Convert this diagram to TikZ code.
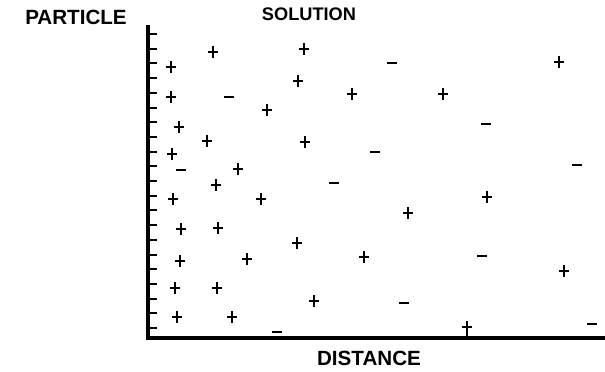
\documentclass[tikz,border=0pt]{standalone}
\usepackage{fontspec}
\setsansfont{Liberation Sans}

\begin{document}
\begin{tikzpicture}[x=0.5pt,y=-0.5pt,every node/.style={font=\fontsize{10.3}{12}\sffamily\bfseries\selectfont},sign/.style={line width=1.35pt},tick/.style={line width=1pt}]
\useasboundingbox (0,0) rectangle (605,371);
\coordinate (top) at (148,25);
\coordinate (origin) at (148,338);
\coordinate (right) at (605,338);
\draw[line width=2.4pt] (top)--(origin)--(right);
\draw[tick] (149,34)--(157,34);
\draw[tick] (149,48.7)--(157,48.7);
\draw[tick] (149,63.4)--(157,63.4);
\draw[tick] (149,78.1)--(157,78.1);
\draw[tick] (149,92.8)--(157,92.8);
\draw[tick] (149,107.5)--(157,107.5);
\draw[tick] (149,122.2)--(157,122.2);
\draw[tick] (149,136.9)--(157,136.9);
\draw[tick] (149,151.6)--(157,151.6);
\draw[tick] (149,166.3)--(157,166.3);
\draw[tick] (149,181)--(157,181);
\draw[tick] (149,195.7)--(157,195.7);
\draw[tick] (149,210.4)--(157,210.4);
\draw[tick] (149,225.1)--(157,225.1);
\draw[tick] (149,239.8)--(157,239.8);
\draw[tick] (149,254.5)--(157,254.5);
\draw[tick] (149,269.2)--(157,269.2);
\draw[tick] (149,283.9)--(157,283.9);
\draw[tick] (149,298.6)--(157,298.6);
\draw[tick] (149,313.3)--(157,313.3);
\draw[tick] (149,328)--(157,328);
\draw[sign] (208,52)--(218,52) (213,46)--(213,58);
\draw[sign] (299,49)--(309,49) (304,43)--(304,55);
\draw[sign] (554,62)--(564,62) (559,56)--(559,68);
\draw[sign] (166,67)--(176,67) (171,61)--(171,73);
\draw[sign] (293,81)--(303,81) (298,75)--(298,87);
\draw[sign] (166,97)--(176,97) (171,91)--(171,103);
\draw[sign] (347,94)--(357,94) (352,88)--(352,100);
\draw[sign] (438,94)--(448,94) (443,88)--(443,100);
\draw[sign] (262,110)--(272,110) (267,104)--(267,116);
\draw[sign] (174,127)--(184,127) (179,121)--(179,133);
\draw[sign] (202,141)--(212,141) (207,135)--(207,147);
\draw[sign] (300,142)--(310,142) (305,136)--(305,148);
\draw[sign] (167,154)--(177,154) (172,148)--(172,160);
\draw[sign] (233,169)--(243,169) (238,163)--(238,175);
\draw[sign] (211,185)--(221,185) (216,179)--(216,191);
\draw[sign] (168,199)--(178,199) (173,193)--(173,205);
\draw[sign] (256,199)--(266,199) (261,193)--(261,205);
\draw[sign] (482,197)--(492,197) (487,191)--(487,203);
\draw[sign] (403,213)--(413,213) (408,207)--(408,219);
\draw[sign] (176,229)--(186,229) (181,223)--(181,235);
\draw[sign] (213,228)--(223,228) (218,222)--(218,234);
\draw[sign] (292,243)--(302,243) (297,237)--(297,249);
\draw[sign] (175,261)--(185,261) (180,255)--(180,267);
\draw[sign] (242,259)--(252,259) (247,253)--(247,265);
\draw[sign] (359,257)--(369,257) (364,251)--(364,263);
\draw[sign] (559,271)--(569,271) (564,265)--(564,277);
\draw[sign] (170,288)--(180,288) (175,282)--(175,294);
\draw[sign] (212,288)--(222,288) (217,282)--(217,294);
\draw[sign] (309,301)--(319,301) (314,295)--(314,307);
\draw[sign] (172,317)--(182,317) (177,311)--(177,323);
\draw[sign] (227,317)--(237,317) (232,311)--(232,323);
\draw[sign] (462,327)--(472,327) (467,321)--(467,336);
\draw[sign] (387,63)--(397,63);
\draw[sign] (224,97)--(234,97);
\draw[sign] (481,124)--(491,124);
\draw[sign] (370,152)--(380,152);
\draw[sign] (176,170)--(186,170);
\draw[sign] (572,165)--(582,165);
\draw[sign] (329,183)--(339,183);
\draw[sign] (477,256)--(487,256);
\draw[sign] (399,303)--(409,303);
\draw[sign] (272,332)--(282,332);
\draw[sign] (587,324)--(597,324);
\node (particle) at (76,17) {PARTICLE};
\node[font=\fontsize{9.1}{11}\sffamily\bfseries\selectfont] (solution) at (309,14) {SOLUTION};
\node (distance) at (369,358) {DISTANCE};
\end{tikzpicture}
\end{document}
